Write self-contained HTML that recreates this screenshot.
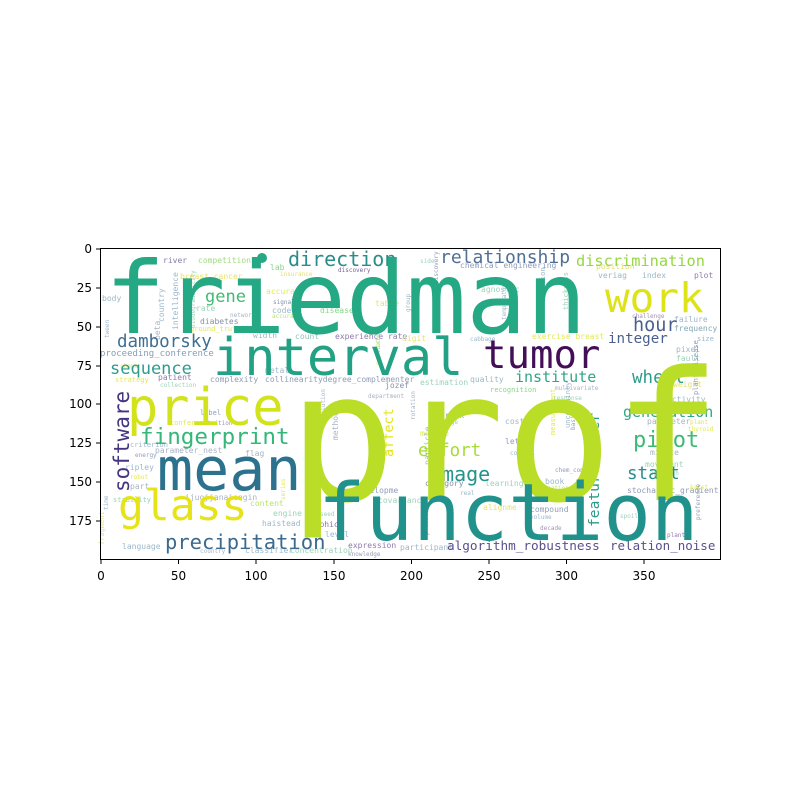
<!DOCTYPE html>
<html><head><meta charset="utf-8"><style>
html,body{margin:0;padding:0;background:#fff;}
svg{display:block;}
.w{font-family:"DejaVu Sans Mono","Liberation Mono",monospace;}
.t{font-family:"DejaVu Sans","Liberation Sans",sans-serif;font-size:12px;fill:#000;}
</style></head><body>
<svg width="800" height="800" viewBox="0 0 800 800" xmlns="http://www.w3.org/2000/svg">
<rect width="800" height="800" fill="#fff"/>
<g class="w">
<g font-size="8" opacity="0.75">
<text x="163" y="263" fill="#5b4d8a">river</text>
<text x="198" y="263" fill="#7ad151">competition</text>
<text x="180" y="279" fill="#e0d83a">breast_cancer</text>
<text x="270" y="270" fill="#5ec962">lab</text>
<text x="280" y="276" fill="#d6d43a" font-size="6">insurance</text>
<text x="338" y="272" fill="#482878" font-size="6">discovery</text>
<text x="266" y="294" fill="#d8e219">accuracy</text>
<text x="102" y="301" fill="#7aa0b8">body</text>
<text x="273" y="304" fill="#5b6b8a" font-size="6">signal</text>
<text x="272" y="313" fill="#7aa0b8">code</text>
<text x="272" y="318" fill="#a0da39" font-size="6">accuracy</text>
<text x="196" y="311" fill="#7ac4a0">rate</text>
<text x="230" y="317" fill="#8a9ab0" font-size="6">network</text>
<text x="320" y="313" fill="#5ec962">disease</text>
<text x="375" y="306" fill="#e0d83a">table</text>
<text x="200" y="324" fill="#5b6b8a">diabetes</text>
<text x="190" y="331" fill="#d8e219" font-size="7">ground_truth</text>
<text x="253" y="338" fill="#7aa0b8">width</text>
<text x="295" y="339" fill="#6ab0a0">count</text>
<text x="335" y="339" fill="#6a4c93">experience rate</text>
<text x="100" y="356" fill="#5b7ba0" font-size="9">proceeding_conference</text>
<text x="120" y="368" fill="#e0d83a" font-size="6">shape</text>
<text x="115" y="382" fill="#d8e219" font-size="7">strategy</text>
<text x="158" y="380" fill="#6a4c93">patient</text>
<text x="160" y="387" fill="#7ac4a0" font-size="6">collection</text>
<text x="210" y="382" fill="#6a7ba0">complexity</text>
<text x="265" y="382" fill="#6a7ba0">collinearitydegree_complementer</text>
<text x="385" y="388" fill="#5b6b8a">jozef</text>
<text x="368" y="398" fill="#8a9ab0" font-size="6">department</text>
<text x="265" y="373" fill="#7aa0b8">metal</text>
<text x="420" y="385" fill="#7ac4a0">estimation</text>
<text x="470" y="382" fill="#7aa0b8">quality</text>
<text x="490" y="392" fill="#5ec962" font-size="7">recognition</text>
<text x="555" y="390" fill="#8a9ab0" font-size="6">multivariate</text>
<text x="553" y="400" fill="#7ac4a0" font-size="6">response</text>
<text x="667" y="402" fill="#7aa0b8">activity</text>
<text x="673" y="387" fill="#e0d83a">weight</text>
<text x="676" y="352" fill="#7aa0b8">pixel</text>
<text x="676" y="361" fill="#7ac4a0">fault</text>
<text x="674" y="322" fill="#7aa0b8">failure</text>
<text x="674" y="331" fill="#5b8aa0">frequency</text>
<text x="697" y="341" fill="#7aa0b8" font-size="7">size</text>
<text x="694" y="278" fill="#6a4c93">plot</text>
<text x="598" y="278" fill="#7aa0b8">veriag</text>
<text x="642" y="278" fill="#7aa0b8">index</text>
<text x="596" y="269" fill="#d6d43a">position</text>
<text x="460" y="268" fill="#6a7ba0">chemical engineering</text>
<text x="420" y="263" fill="#7ac4a0" font-size="6">side</text>
<text x="481" y="292" fill="#7ac4a0">agnostic</text>
<text x="632" y="318" fill="#8a6aa0" font-size="6">challenge</text>
<text x="402" y="341" fill="#e0d83a">digit</text>
<text x="532" y="339" fill="#d8e219">exercise breast</text>
<text x="470" y="341" fill="#7aa0b8" font-size="6">cabbage</text>
<text x="200" y="415" fill="#6a7ba0" font-size="7">label</text>
<text x="200" y="425" fill="#8a6aa0" font-size="6">nutrition</text>
<text x="170" y="425" fill="#d8e219" font-size="7">conference</text>
<text x="130" y="447" fill="#7aa0b8" font-size="7">criterion</text>
<text x="135" y="457" fill="#6a7ba0" font-size="6">energy</text>
<text x="155" y="453" fill="#8a9ab0">parameter_nest</text>
<text x="245" y="456" fill="#8a9ab0">flag</text>
<text x="125" y="470" fill="#7aa0b8">ripley</text>
<text x="130" y="479" fill="#d8e219" font-size="6">robot</text>
<text x="130" y="489" fill="#8a9ab0">part</text>
<text x="113" y="502" fill="#7ac4a0" font-size="7">stability</text>
<text x="185" y="500" fill="#8a9ab0">ijuojjanaiengin</text>
<text x="250" y="506" fill="#a0da39">content</text>
<text x="273" y="516" fill="#7ac4a0">engine</text>
<text x="262" y="526" fill="#7aa0b8">haistead</text>
<text x="305" y="527" fill="#6a4c93">graphic</text>
<text x="320" y="516" fill="#7ac4a0" font-size="6">seed</text>
<text x="122" y="549" fill="#7aa0b8">language</text>
<text x="200" y="553" fill="#8a9ab0" font-size="6">country</text>
<text x="245" y="553" fill="#7aa0b8">classifier</text>
<text x="290" y="553" fill="#7ac4a0">concentration</text>
<text x="348" y="548" fill="#6a4c93">expression</text>
<text x="348" y="556" fill="#6a7ba0" font-size="6">knowledge</text>
<text x="400" y="550" fill="#7aa0b8">participant</text>
<text x="355" y="493" fill="#6a7ba0">developme</text>
<text x="378" y="503" fill="#7ac4a0">covariance</text>
<text x="325" y="537" fill="#7aa0b8">level</text>
<text x="440" y="418" fill="#6a7ba0">truck</text>
<text x="440" y="424" fill="#7ac4a0" font-size="6">phage</text>
<text x="420" y="436" fill="#d8e219">module</text>
<text x="505" y="424" fill="#7aa0b8">cost</text>
<text x="505" y="444" fill="#6a7ba0">letter</text>
<text x="510" y="455" fill="#7aa0b8" font-size="6">control</text>
<text x="425" y="486" fill="#5b6b8a">category</text>
<text x="485" y="486" fill="#7ac4a0">learning</text>
<text x="545" y="484" fill="#7aa0b8">book</text>
<text x="555" y="472" fill="#6a7ba0" font-size="6">chem_compos</text>
<text x="540" y="490" fill="#a0da39" font-size="6">location</text>
<text x="460" y="495" fill="#7aa0b8" font-size="6">real</text>
<text x="483" y="510" fill="#e0d83a">alignme</text>
<text x="530" y="512" fill="#6a7ba0">compound</text>
<text x="530" y="519" fill="#7aa0b8" font-size="6">volume</text>
<text x="540" y="530" fill="#8a6aa0" font-size="6">decade</text>
<text x="627" y="493" fill="#6a7ba0">stochastic_gradient</text>
<text x="645" y="467" fill="#7ac4a0">movement</text>
<text x="650" y="475" fill="#7ac4a0" font-size="6">approach</text>
<text x="650" y="455" fill="#8a9ab0">minute</text>
<text x="647" y="424" fill="#8a9ab0">parameter</text>
<text x="690" y="424" fill="#d6d43a" font-size="6">plant</text>
<text x="688" y="431" fill="#d8e219" font-size="6">thyroid</text>
<text x="690" y="489" fill="#d8e219" font-size="6">karst</text>
<text x="620" y="518" fill="#7ac4a0" font-size="6">spoil</text>
<text x="667" y="537" fill="#6a4c93" font-size="6">plant</text>
</g>
<g font-size="8" opacity="0.75">
<text transform="translate(164,322) rotate(-90)" fill="#7aa0b8">country</text>
<text transform="translate(178,330) rotate(-90)" fill="#7aa0b8">intelligence</text>
<text transform="translate(160,340) rotate(-90)" fill="#8a9ab0">beta</text>
<text transform="translate(195,328) rotate(-90)" fill="#7ac4a0" font-size="6">biodegradability</text>
<text transform="translate(109,338) rotate(-90)" fill="#7aa0b8" font-size="6">tween</text>
<text transform="translate(380,365) rotate(-90)" fill="#d8e219" font-size="6">population</text>
<text transform="translate(415,420) rotate(-90)" fill="#8a9ab0" font-size="6">rotation</text>
<text transform="translate(430,465) rotate(-90)" fill="#7aa0b8">particle</text>
<text transform="translate(325,418) rotate(-90)" fill="#8a9ab0" font-size="6">solution</text>
<text transform="translate(338,440) rotate(-90)" fill="#8a9ab0">method</text>
<text transform="translate(380,352) rotate(-90)" fill="#7ac4a0" font-size="6">mixture</text>
<text transform="translate(410,312) rotate(-90)" fill="#7aa0b8" font-size="6">group</text>
<text transform="translate(438,320) rotate(-90)" fill="#6a7ba0" font-size="6">knowledge_discovery</text>
<text transform="translate(545,318) rotate(-90)" fill="#7aa0b8" font-size="7">conservation</text>
<text transform="translate(568,310) rotate(-90)" fill="#7ac4a0" font-size="7">thickness</text>
<text transform="translate(506,320) rotate(-90)" fill="#7aa0b8" font-size="6">temperature</text>
<text transform="translate(555,435) rotate(-90)" fill="#d8e219" font-size="7">measurement</text>
<text transform="translate(570,428) rotate(-90)" fill="#7aa0b8" font-size="7">uncertainty</text>
<text transform="translate(575,430) rotate(-90)" fill="#6a7ba0" font-size="6">basis</text>
<text transform="translate(698,395) rotate(-90)" fill="#6a7ba0" font-size="7">plant_disease</text>
<text transform="translate(104,545) rotate(-90)" fill="#e0d83a" font-size="7">fragment</text>
<text transform="translate(108,510) rotate(-90)" fill="#7aa0b8" font-size="6">time</text>
<text transform="translate(428,535) rotate(-90)" fill="#8a6aa0" font-size="6">pressure</text>
<text transform="translate(700,520) rotate(-90)" fill="#6a7ba0" font-size="6">preference</text>
<text transform="translate(285,500) rotate(-90)" fill="#d8e219" font-size="6">series</text>
</g>
<text x="288" y="266" font-size="20" fill="#2a8d8c">direction</text>
<text x="440" y="263" font-size="18" fill="#4f6f96">relationship</text>
<text x="576" y="266" font-size="15.3" fill="#95d840">discrimination</text>
<text x="205" y="302" font-size="17" fill="#3fbc73">gene</text>
<text x="117" y="347" font-size="17.5" fill="#3f6f92">damborsky</text>
<text x="110" y="374" font-size="17" fill="#2f9b8a">sequence</text>
<text x="633" y="331" font-size="18.5" fill="#4a5f8e">hour</text>
<text x="608" y="343" font-size="14.2" fill="#4a5f8e">integer</text>
<text x="515" y="382" font-size="15" fill="#2fa785">institute</text>
<text x="632" y="383" font-size="17.5" fill="#2f9b8a">wheel</text>
<text x="623" y="417" font-size="15" fill="#2fa785">generation</text>
<text x="633" y="447" font-size="22" fill="#3cbb75">pilot</text>
<text x="418" y="456" font-size="17.5" fill="#a8db34">effort</text>
<text x="430" y="481" font-size="20" fill="#25938b">image</text>
<text x="627" y="479" font-size="17.5" fill="#2a8d8c">start</text>
<text x="140" y="444" font-size="22.6" fill="#35b779">fingerprint</text>
<text x="165" y="549" font-size="20.5" fill="#3b6a8e">precipitation</text>
<text x="447" y="550" font-size="12.7" fill="#5a4f8e">algorithm_robustness</text>
<text x="610" y="550" font-size="12.5" fill="#5a4f8e">relation_noise</text>
<text transform="translate(129,492) rotate(-90)" font-size="21" fill="#463480">software</text>
<text transform="translate(599,527) rotate(-90)" font-size="14.6" fill="#2a9a8a">featurenumber</text>
<text transform="translate(393,457) rotate(-90)" font-size="13.5" fill="#e6e419">affect</text>
<text x="105" y="333" font-size="100" fill="#25a884">friedman</text>
<text x="213" y="375" font-size="52" fill="#22a185">interval</text>
<text x="483" y="368" font-size="39" fill="#440f57">tumor</text>
<text x="605" y="312" font-size="41" fill="#dde318">work</text>
<text x="127" y="425" font-size="52" fill="#d2e21b">price</text>
<text x="288" y="500" font-size="180" fill="#bade28">prof</text>
<text x="157" y="490" font-size="60" fill="#2c718e">mean</text>
<text x="118" y="520" font-size="43" fill="#e6e419">glass</text>
<text x="318" y="540" font-size="79" fill="#21918c">function</text>
<circle cx="262" cy="258" r="5" fill="#25a884"/>
</g>
<rect x="100.5" y="248.5" width="620" height="311" fill="none" stroke="#000" stroke-width="1"/>
<g stroke="#000" stroke-width="1">
<line x1="101" y1="560" x2="101" y2="564"/><line x1="178.5" y1="560" x2="178.5" y2="564"/><line x1="256" y1="560" x2="256" y2="564"/><line x1="334" y1="560" x2="334" y2="564"/><line x1="411.5" y1="560" x2="411.5" y2="564"/><line x1="489" y1="560" x2="489" y2="564"/><line x1="566.5" y1="560" x2="566.5" y2="564"/><line x1="644" y1="560" x2="644" y2="564"/>
<line x1="96" y1="249" x2="100" y2="249"/><line x1="96" y1="288" x2="100" y2="288"/><line x1="96" y1="327" x2="100" y2="327"/><line x1="96" y1="366" x2="100" y2="366"/><line x1="96" y1="404" x2="100" y2="404"/><line x1="96" y1="443" x2="100" y2="443"/><line x1="96" y1="482" x2="100" y2="482"/><line x1="96" y1="521" x2="100" y2="521"/>
</g>
<g class="t" text-anchor="middle">
<text x="101" y="580">0</text><text x="178.5" y="580">50</text><text x="256" y="580">100</text><text x="334" y="580">150</text><text x="411.5" y="580">200</text><text x="489" y="580">250</text><text x="566.5" y="580">300</text><text x="644" y="580">350</text>
</g>
<g class="t" text-anchor="end">
<text x="92" y="253">0</text><text x="92" y="292">25</text><text x="92" y="331">50</text><text x="92" y="370">75</text><text x="92" y="408">100</text><text x="92" y="447">125</text><text x="92" y="486">150</text><text x="92" y="525">175</text>
</g>
</svg>
</body></html>
